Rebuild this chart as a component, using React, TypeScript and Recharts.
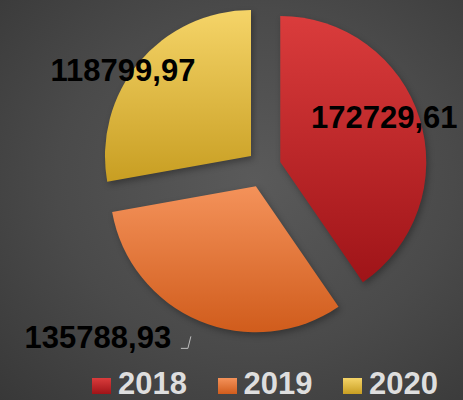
import React from "react"
import { PieChart, Pie, Cell, Legend } from "recharts"

const years = ["2018", "2019", "2020"]
const values = [172729.61, 135788.93, 118799.97]

const topColors = ["#da3c3c", "#f4925a", "#f5d468"]
const bottomColors = ["#9f1418", "#d05c1c", "#c89e22"]

const W = 463
const H = 400
const centerX = 264
const centerY = 167
const radius = 146
const explode = [17, 21, 17]

// label offsets from each slice's own apex (center x, baseline)
const labelOffsets = [
  { dx: 104, dy: -34 },
  { dx: -158, dy: 162 },
  { dx: -128, dy: -75 },
]

const total = values.reduce((a, b) => a + b, 0)
const mids: number[] = []
{
  let acc = 0
  values.forEach((v) => {
    mids.push(((acc + v / 2) / total) * 2 * Math.PI)
    acc += v
  })
}
const centers = mids.map((a, i) => ({
  x: centerX + explode[i] * Math.sin(a),
  y: centerY - explode[i] * Math.cos(a),
}))

const data = years.map((y, i) => ({ name: y, value: values[i] }))
const fmt = (v: number) => v.toFixed(2).replace(".", ",")

const labelFont = "'Liberation Sans', Arial, sans-serif"

function makeLabel(k: number) {
  return (props: any) => {
    if (props.index !== k) return null
    const x = centers[k].x + labelOffsets[k].dx
    const y = centers[k].y + labelOffsets[k].dy
    return (
      <g>
        <text
          x={x}
          y={y}
          textAnchor="middle"
          fill="#000"
          fontFamily={labelFont}
          fontWeight="bold"
          fontSize={31}
        >
          {fmt(values[k])}
        </text>
        {k === 1 && (
          <polyline
            points={`${x + 83},${y} ${x + 90},${y} ${x + 93},${y - 12}`}
            fill="none"
            stroke="#bfbfbf"
            strokeWidth={1}
          />
        )}
      </g>
    )
  }
}

function LegendContent() {
  return (
    <div style={{ position: "relative", width: W, height: 31 }}>
      {years.map((y, i) => (
        <div key={y} style={{ position: "absolute", left: 92 + i * 125.5, top: 0, height: 31 }}>
          <div
            style={{
              position: "absolute",
              left: 0,
              top: 10,
              width: 19,
              height: 16,
              background: `linear-gradient(${topColors[i]}, ${bottomColors[i]})`,
            }}
          />
          <span
            style={{
              position: "absolute",
              left: 26,
              top: 0,
              lineHeight: "31px",
              fontFamily: labelFont,
              fontWeight: "bold",
              fontSize: 31,
              color: "#dedede",
              whiteSpace: "nowrap",
            }}
          >
            {y}
          </span>
        </div>
      ))}
    </div>
  )
}

export default function App() {
  return (
    <div
      style={{
        position: "absolute",
        left: 0,
        top: 0,
        width: W,
        height: H,
        background: "radial-gradient(ellipse at 55% 45%, #5a5a5a 0%, #4a4a4a 55%, #383838 100%)",
        overflow: "hidden",
      }}
    >
      <PieChart width={W} height={H} margin={{ top: 0, right: 0, bottom: 0, left: 0 }}>
        <defs>
          {years.map((y, i) => (
            <linearGradient key={y} id={`grad${i}`} x1="0" y1="0" x2="0" y2="1">
              <stop offset="0%" stopColor={topColors[i]} />
              <stop offset="100%" stopColor={bottomColors[i]} />
            </linearGradient>
          ))}
        </defs>
        {years.map((y, k) => (
          <Pie
            key={y}
            data={data}
            dataKey="value"
            nameKey="name"
            cx={centers[k].x}
            cy={centers[k].y}
            outerRadius={radius}
            startAngle={90}
            endAngle={-270}
            stroke="none"
            label={makeLabel(k)}
            labelLine={false}
            isAnimationActive={false}
            legendType="none"
          >
            {data.map((d, i) => (
              <Cell
                key={d.name}
                fill={i === k ? `url(#grad${i})` : "none"}
                style={i === k ? { filter: "drop-shadow(2px 3px 3px rgba(0,0,0,0.3))" } : undefined}
              />
            ))}
          </Pie>
        ))}
        <Legend
          content={<LegendContent />}
          wrapperStyle={{ position: "absolute", left: 0, top: 368, width: W, height: 31 }}
        />
      </PieChart>
    </div>
  )
}
